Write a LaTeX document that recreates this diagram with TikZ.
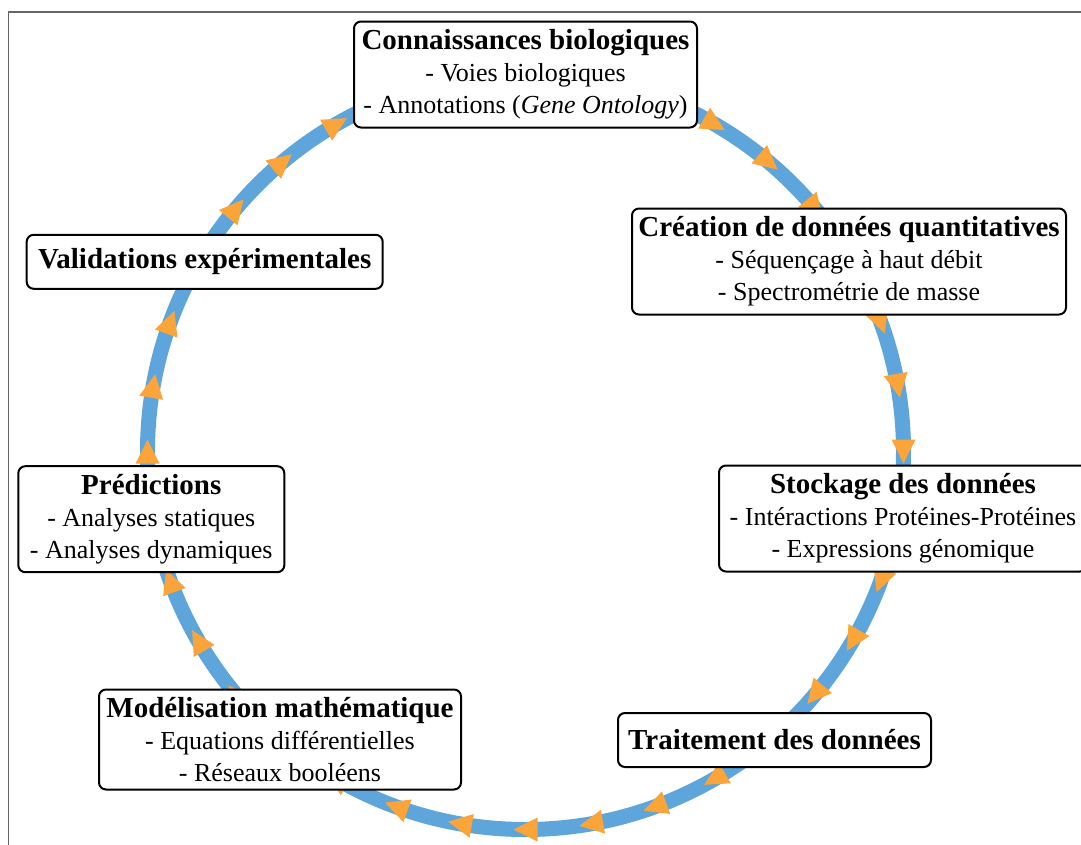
\documentclass[tikz,border=0pt]{standalone}
\usepackage{fontspec}
\setmainfont{Liberation Serif}
\definecolor{ringblue}{HTML}{5DA5DA}
\definecolor{tiporange}{HTML}{FAA43A}
\newcommand{\sttl}[1]{{\fontsize{29}{32}\selectfont\bfseries #1}}
\tikzset{
  stagebox/.style={draw=black, fill=white, line width=2pt, rounded corners=7pt,
    align=center, inner sep=0pt, font=\fontsize{26}{32}\selectfont},
  ring/.style={draw=ringblue, line width=15pt},
  tipmark/.style={fill=tiporange},
  frameline/.style={draw=black!60, line width=1.2pt}
}
\begin{document}
\begin{tikzpicture}[x=1pt,y=-1pt]
\useasboundingbox (0,0) rectangle (1081,844);
\clip (0,0) rectangle (1081,844);
\fill[white] (0,0) rectangle (1081,844);
\draw[frameline] (8.5,12) rectangle (1200,1000);
% ring
\coordinate (c) at (525.5,451.5);
\draw[ring] (c) circle (378);
\foreach \a in {0,10,...,350}{
  \pgfmathsetmacro{\px}{525.5+378*cos(\a)}
  \pgfmathsetmacro{\py}{451.5-378*sin(\a)}
  \pgfmathsetmacro{\tx}{sin(\a)}
  \pgfmathsetmacro{\ty}{cos(\a)}
  \pgfmathsetmacro{\nx}{cos(\a)}
  \pgfmathsetmacro{\ny}{-sin(\a)}
  \fill[tipmark] ({\px+12*\tx},{\py+12*\ty})
     -- ({\px-12*\tx+12*\nx},{\py-12*\ty+12*\ny})
     -- ({\px-12*\tx-12*\nx},{\py-12*\ty-12*\ny}) -- cycle;
}
% stages
\node[stagebox, minimum width=343pt, minimum height=106pt] (conn) at (525.5,74.5)
  {\sttl{Connaissances biologiques}\\- Voies biologiques\\- Annotations (\textit{Gene Ontology})};
\node[stagebox, minimum width=434pt, minimum height=106pt] (crea) at (849,261.5)
  {\sttl{Création de données quantitatives}\\- Séquençage à haut débit\\- Spectrométrie de masse};
\node[stagebox, minimum width=368pt, minimum height=106pt] (stock) at (903,518.5)
  {\sttl{Stockage des données}\\- Intéractions Protéines-Protéines\\- Expressions génomique};
\node[stagebox, minimum width=313pt, minimum height=54pt] (trait) at (774.5,740)
  {\sttl{Traitement des données}};
\node[stagebox, minimum width=362pt, minimum height=100pt] (model) at (280,739.5)
  {\sttl{Modélisation mathématique}\\- Equations différentielles\\- Réseaux booléens};
\node[stagebox, minimum width=266pt, minimum height=106pt] (pred) at (151.3,519.2)
  {\sttl{Prédictions}\\- Analyses statiques\\- Analyses dynamiques};
\node[stagebox, minimum width=356pt, minimum height=54pt] (valid) at (204.7,261.8)
  {\sttl{Validations expérimentales}};
\end{tikzpicture}
\end{document}
